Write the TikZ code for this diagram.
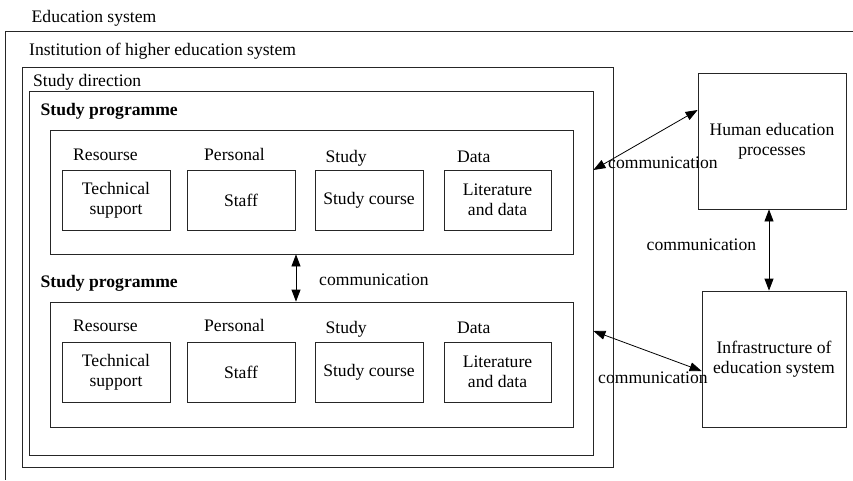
\documentclass[tikz,border=0pt]{standalone}
\usepackage{fontspec}
\setmainfont{Liberation Serif}
\usetikzlibrary{arrows.meta,calc}

\tikzset{
  frame/.style={draw=black!85, line width=0.8pt, inner sep=0pt},
  box/.style={frame, align=center},
  lbl/.style={anchor=base west, inner sep=0pt},
  comm/.style={draw=black, line width=0.8pt, {Triangle[length=12pt,width=9pt]}-{Triangle[length=12pt,width=9pt]}}
}

\begin{document}
\begin{tikzpicture}[x=1pt, y=-1pt, font=\fontsize{17.6}{20}\selectfont]
\useasboundingbox (0,0) rectangle (853,480);

% open outer frame of the education system
\draw[black!85, line width=0.8pt] (853,31) -| (5,480);
\node[lbl] (edu) at (31.5,22) {Education system};

% institution and study direction frames
\node[frame, minimum width=591pt, minimum height=400pt] (inst) at (317.5,267) {};
\node[lbl] (instlbl) at (29,55) {Institution of higher education system};
\node[frame, minimum width=564pt, minimum height=364pt] (dir) at (311,273) {};
\node[lbl] (dirlbl) at (33,86) {Study direction};

% first study programme
\node[lbl] (pAlbl) at (40.5,115) {\bfseries Study programme};
\node[frame, minimum width=523pt, minimum height=124pt] (progA) at (311.5,192) {};
\node[box, minimum width=108pt, minimum height=60pt] (tsA) at (116,200) {Technical\\support};
\node[box, minimum width=108pt, minimum height=60pt] (stA) at (241,200) {Staff};
\node[box, minimum width=108pt, minimum height=60pt] (scA) at (369,200) {Study course};
\node[box, minimum width=107pt, minimum height=60pt] (ldA) at (497.5,200) {Literature\\and data};
\node[lbl] (rA) at (73,160) {Resourse};
\node[lbl] (peA) at (204,160) {Personal};
\node[lbl] (suA) at (325.5,162) {Study};
\node[lbl] (daA) at (457,162) {Data};

% second study programme
\node[lbl] (pBlbl) at (40.5,287) {\bfseries Study programme};
\node[frame, minimum width=523pt, minimum height=125pt] (progB) at (311.5,364.5) {};
\node[box, minimum width=108pt, minimum height=60pt] (tsB) at (116,372) {Technical\\support};
\node[box, minimum width=108pt, minimum height=60pt] (stB) at (241,372) {Staff};
\node[box, minimum width=108pt, minimum height=60pt] (scB) at (369,372) {Study course};
\node[box, minimum width=107pt, minimum height=60pt] (ldB) at (497.5,372) {Literature\\and data};
\node[lbl] (rB) at (73,331) {Resourse};
\node[lbl] (peB) at (204,331) {Personal};
\node[lbl] (suB) at (325.5,333) {Study};
\node[lbl] (daB) at (457,333) {Data};

% external blocks
\node[box, minimum width=148pt, minimum height=136pt] (human) at (772,141) {Human education\\processes};
\node[box, minimum width=144pt, minimum height=136pt] (infra) at (774,359) {Infrastructure of\\education system};

% communication links
\coordinate (midx) at (296,0);
\coordinate (rightx) at (769,0);
\draw[comm] (progA.south -| midx) -- (progB.north -| midx);
\node[lbl] (cMid) at (319,285) {communication};

\draw[comm] (human.south -| rightx) -- (infra.north -| rightx);
\node[lbl] (cRight) at (646.5,250) {communication};

\draw[comm] (dir.east |- 0,170) -- (human.west |- 0,110);
\node[lbl] (cTop) at (608,168) {communication};

\draw[comm] (dir.east |- 0,331) -- (infra.west |- 0,371);
\node[lbl] (cBot) at (598,383) {communication};
\end{tikzpicture}
\end{document}
